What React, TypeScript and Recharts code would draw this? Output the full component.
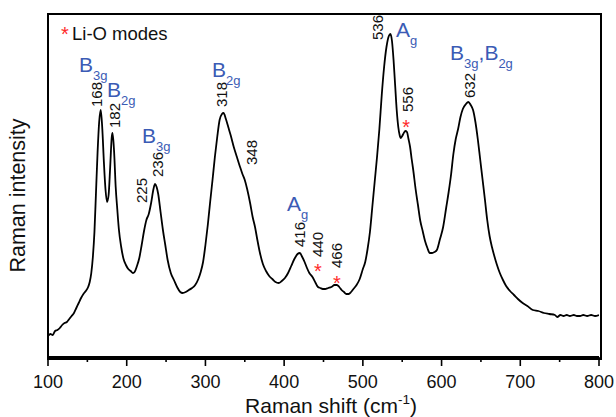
import { ComposedChart, Line, XAxis, YAxis, ReferenceDot } from 'recharts'

// Raman spectrum (intensity in arbitrary units, 0 = axis)
const shift = [
  100, 103, 106, 109, 112, 115, 118, 121, 124, 127, 130, 133, 136, 139, 142, 145, 148, 151, 153, 155,
  157, 159, 161, 163, 165, 167, 169, 171, 173, 175, 177, 179, 181, 182, 184, 186, 188, 190, 193, 196,
  199, 202, 205, 208, 210, 213, 216, 219, 222, 225, 228, 231, 234, 236, 238, 240, 243, 246, 249, 252,
  256, 260, 264, 268, 271, 275, 279, 283, 287, 291, 294, 297, 300, 303, 306, 309, 312, 315, 318, 321,
  323, 326, 329, 332, 336, 340, 344, 347, 350, 353, 357, 360, 363, 366, 369, 373, 377, 381, 385, 389,
  393, 397, 401, 405, 409, 413, 417, 420, 423, 426, 429, 432, 436, 440, 443, 446, 449, 452, 456, 460,
  464, 467, 470, 473, 476, 479, 482, 485, 488, 492, 496, 500, 503, 506, 509, 512, 515, 518, 521, 524,
  527, 530, 533, 535, 537, 539, 541, 543, 545, 547, 548, 550, 552, 554, 556, 558, 560, 562, 564, 567,
  570, 573, 576, 579, 582, 585, 588, 591, 594, 598, 602, 606, 609, 612, 615, 618, 621, 624, 627, 631,
  634, 637, 640, 643, 646, 649, 652, 655, 658, 661, 664, 667, 670, 674, 678, 682, 687, 692, 697, 703,
  709, 716, 723, 730, 737, 744, 747, 751, 755, 759, 763, 768, 772, 776, 780, 785, 790, 795, 800,
]
const intensity = [
  21, 23, 22, 26, 27, 29, 32, 34, 35, 38, 41, 44, 49, 54, 59, 63, 66, 70, 75, 84,
  100, 125, 165, 205, 235, 247, 228, 195, 168, 155, 162, 190, 220, 224, 205, 170, 148, 128, 110, 98,
  92, 88, 86, 84, 85, 91, 99, 112, 126, 137, 143, 154, 168, 173, 170, 163, 145, 127, 112, 97,
  84, 77, 70, 65, 64, 65, 67, 69, 72, 78, 85, 95, 112, 132, 155, 177, 200, 220, 237, 243,
  244, 238, 230, 222, 210, 200, 190, 183, 177, 168, 153, 140, 130, 117, 105, 93, 86, 81, 78, 75,
  74, 76, 79, 84, 91, 98, 103, 104, 100, 95, 89, 84, 80, 74, 70, 69, 68, 68, 69, 70,
  72, 72, 70, 67, 65, 63, 63, 65, 68, 72, 78, 88, 95, 108, 125, 150, 175, 200, 228, 262,
  290, 310, 321, 323, 316, 297, 272, 247, 230, 221, 219, 221, 224, 226, 225, 218, 210, 198, 187, 168,
  152, 136, 126, 116, 109, 104, 104, 105, 107, 118, 130, 150, 165, 182, 203, 218, 228, 240, 248, 253,
  255, 252, 247, 235, 218, 198, 178, 158, 137, 121, 110, 101, 93, 84, 77, 71, 66, 62, 58, 54,
  51, 47, 46, 44, 43, 42, 40, 42, 41, 42, 41, 42, 41, 41, 42, 41, 42, 41, 42,
]
const spectrum = shift.map((x, i) => ({ x, y: intensity[i] }))

const majorTicks = [100, 200, 300, 400, 500, 600, 700, 800]
const minorTicks = [150, 250, 350, 450, 550, 650, 750]
const allTicks = [...majorTicks, ...minorTicks].sort((a, b) => a - b)

// peak position labels (rotated), anchored at their lower end
const peakText = ['168', '182', '225', '236', '318', '348', '416', '440', '466', '536', '556', '632']
const peakX = [161, 185, 219, 238.5, 320, 359, 420, 442, 467, 518, 557, 636]
const peakY = [250, 229, 154, 180, 250, 192, 110, 100, 89, 317, 245, 259]

// symmetry labels: parts alternate normal / subscript
const modeParts = [['B', '3g'], ['B', '2g'], ['B', '3g'], ['B', '2g'], ['A', 'g'], ['A', 'g'], ['B', '3g', ',B', '2g']]
const modeX = [139.4, 175, 219.4, 308.4, 403.7, 542, 610.8]
const modeY = [285, 260, 214, 280, 146, 320, 297]

// Li-O modes
const starX = [555, 443, 467]
const starY = [234, 90, 78]

const font = '"Liberation Sans", Arial, Helvetica, sans-serif'
const blue = '#3b5bb5'
const red = '#ff2a2a'
const frame = { stroke: '#000', strokeWidth: 2 }

// plot box, from the chart margins below
const W = 616
const H = 417
const M = { top: 14, right: 17, left: 48, bottom: 60 }

function AxisTick(props: any) {
  const { x, y, payload } = props
  const major = majorTicks.includes(payload.value)
  return (
    <g>
      <line x1={x} x2={x} y1={y} y2={y + (major ? 9 : 5)} stroke="#000" strokeWidth={1.6} />
      {major && (
        <text x={x} y={y + 31} textAnchor="middle" fontSize={18} fontFamily={font} fill="#111">
          {payload.value}
        </text>
      )}
    </g>
  )
}

export default function App() {
  return (
    <div style={{ position: 'absolute', left: 0, top: 0, width: W, height: H, background: '#fff' }}>
      <ComposedChart width={W} height={H} data={spectrum} margin={{ top: M.top, right: M.right, left: 0, bottom: 0 }}>
        <XAxis
          dataKey="x"
          type="number"
          domain={[100, 800]}
          allowDataOverflow
          ticks={allTicks}
          interval={0}
          height={M.bottom}
          tickLine={false}
          tickSize={0}
          tickMargin={0}
          tick={<AxisTick />}
          axisLine={frame}
        />
        <YAxis type="number" domain={[0, 343]} allowDataOverflow ticks={[0, 343]} width={M.left} tick={false} tickLine={false} axisLine={frame} />
        <Line dataKey="y" type="monotone" stroke="#000" strokeWidth={1.8} dot={false} isAnimationActive={false} />
        {peakText.map((t, i) => (
          <ReferenceDot
            key={'p' + i}
            x={peakX[i]}
            y={peakY[i]}
            r={0}
            shape={(p: any) => (
              <text
                x={p.cx}
                y={p.cy}
                transform={`rotate(-90 ${p.cx} ${p.cy})`}
                textAnchor="start"
                dominantBaseline="central"
                fontSize={15}
                fontFamily={font}
                fill="#111"
              >
                {t}
              </text>
            )}
          />
        ))}
        {modeParts.map((parts, i) => (
          <ReferenceDot
            key={'m' + i}
            x={modeX[i]}
            y={modeY[i]}
            r={0}
            shape={(p: any) => (
              <text x={p.cx} y={p.cy} fontFamily={font} fill={blue}>
                {parts.map((s, j) => (
                  <tspan key={j} fontSize={j % 2 ? 13 : 21} dy={j === 0 ? 0 : j % 2 ? 8 : -8}>
                    {s}
                  </tspan>
                ))}
              </text>
            )}
          />
        ))}
        {starX.map((sx, i) => (
          <ReferenceDot
            key={'s' + i}
            x={sx}
            y={starY[i]}
            r={0}
            shape={(p: any) => (
              <text x={p.cx} y={p.cy + 11} textAnchor="middle" fontSize={20} fontFamily={font} fill={red}>
                *
              </text>
            )}
          />
        ))}
      </ComposedChart>
      {/* frame around the plot area */}
      <div
        style={{
          position: 'absolute',
          left: M.left - 1,
          top: M.top - 1,
          width: W - M.left - M.right,
          height: H - M.top - M.bottom,
          border: '2px solid #000',
          pointerEvents: 'none',
        }}
      />
      <svg width={W} height={H} style={{ position: 'absolute', left: 0, top: 0, pointerEvents: 'none' }}>
        <text x={25} y={195.5} transform="rotate(-90 25 195.5)" textAnchor="middle" fontSize={21.5} fontFamily={font} fill="#111">
          Raman intensity
        </text>
        <text x={331} y={413} textAnchor="middle" fontSize={21} fontFamily={font} fill="#111">
          Raman shift (cm<tspan fontSize={13.5} dy={-9}>-1</tspan>
          <tspan dy={9}>)</tspan>
        </text>
        <text x={65} y={41} textAnchor="middle" fontSize={20} fontFamily={font} fill={red}>
          *
        </text>
        <text x={72} y={39.5} fontSize={18.5} fontFamily={font} fill="#111">
          Li-O modes
        </text>
      </svg>
    </div>
  )
}
